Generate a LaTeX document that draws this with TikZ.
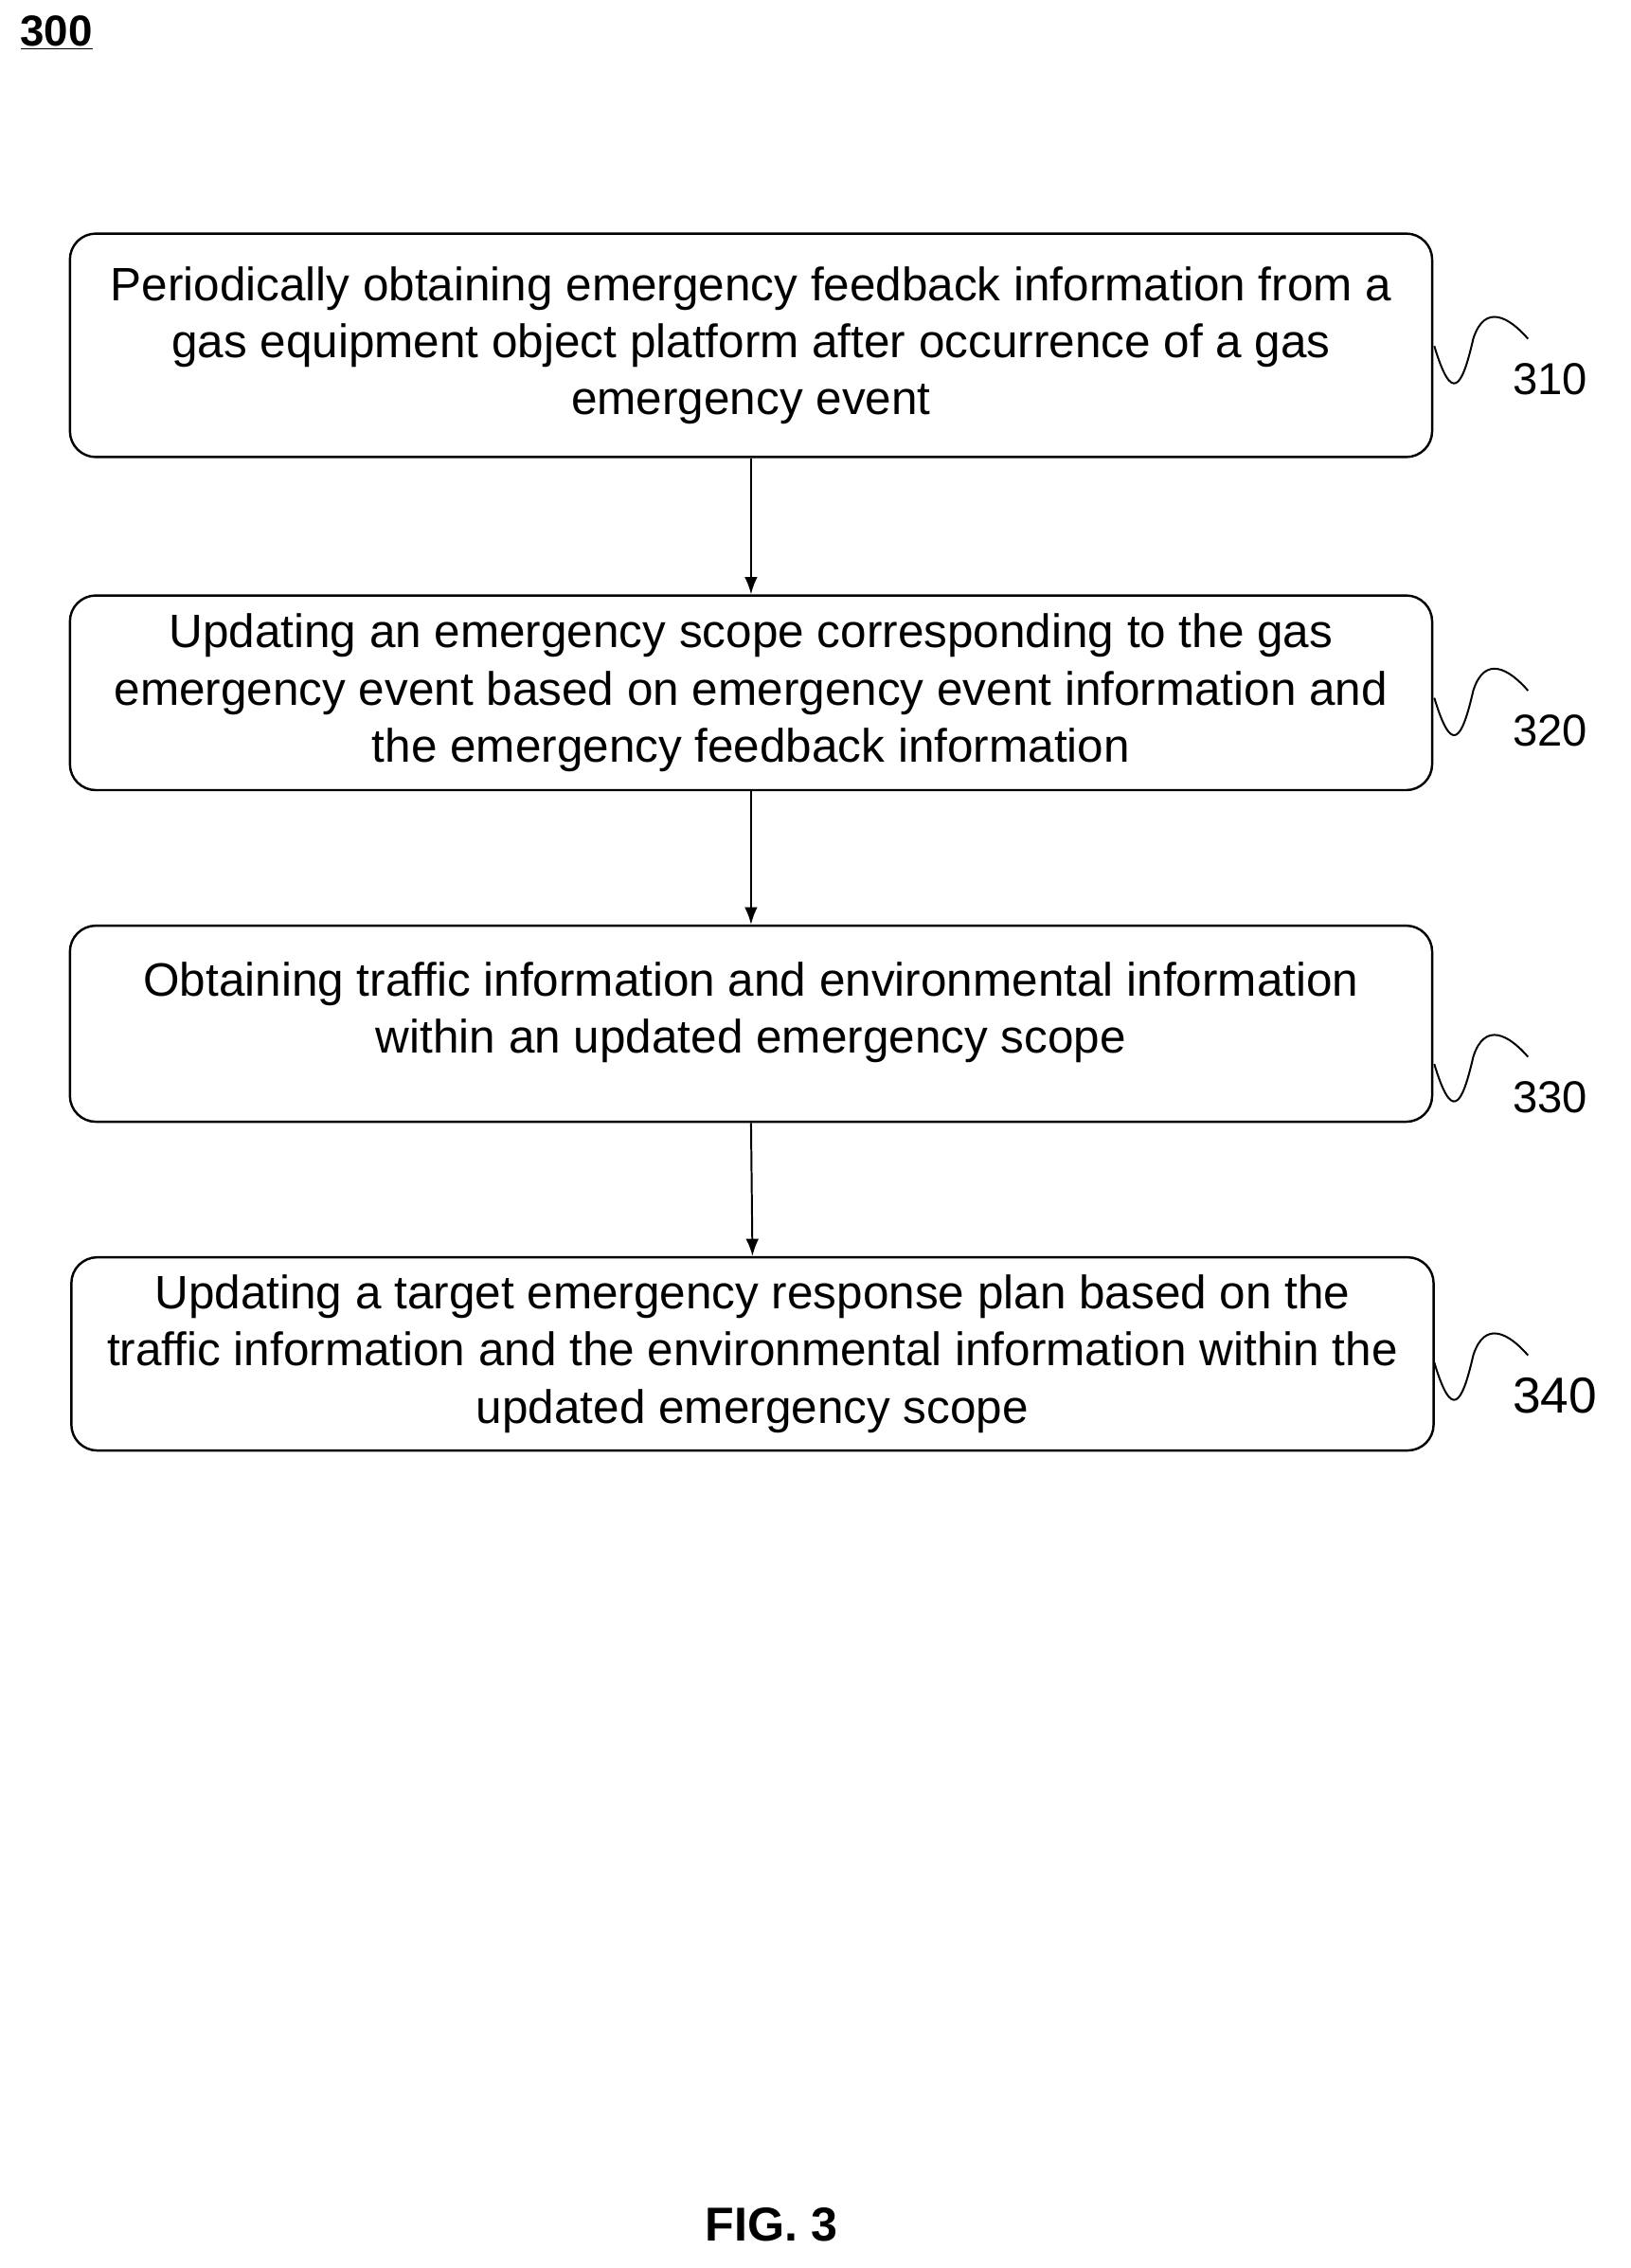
\documentclass[tikz,border=0pt]{standalone}
\usepackage{fontspec}
\setmainfont{Liberation Sans}
\usetikzlibrary{arrows.meta}
\begin{document}
\begin{tikzpicture}[x=1pt,y=-1pt,
 box/.style={draw,line width=1.6pt,rounded corners=18pt,minimum width=945pt,align=center,font=\fontsize{32.5}{39.5}\selectfont,inner sep=0pt},
 arr/.style={-{Latex[length=12pt,width=9pt]},line width=1.3pt},
 sq/.style={line width=1.3pt},
 lab/.style={anchor=west}]
\useasboundingbox (0,0) rectangle (1131,1573);
\node[box,minimum height=155pt] (b1) at (521,239.5) {Periodically obtaining emergency feedback information from a\\gas equipment object platform after occurrence of a gas\\emergency event};
\node[box,minimum height=135pt] (b2) at (521,480.5) {Updating an emergency scope corresponding to the gas\\emergency event based on emergency event information and\\the emergency feedback information};
\node[box,minimum height=136pt,text depth=22pt] (b3) at (521,710) {Obtaining traffic information and environmental information\\within an updated emergency scope};
\node[box,minimum height=134pt] (b4) at (522,939) {Updating a target emergency response plan based on the\\traffic information and the environmental information within the\\updated emergency scope};
\draw[arr] (b1.south) -- (b2.north);
\draw[arr] (b2.south) -- (b3.north);
\draw[arr] (b3.south) -- (b4.north);
\foreach \b/\y/\t/\s in {b1/240/310/31, b2/484/320/31, b3/738/330/31, b4/945/340/35}{
 \coordinate (s\t) at (995,\y);
 \draw[sq] (s\t) .. controls (1007,\y+40) and (1014,\y+30) .. (1022,\y-5)
   .. controls (1030,\y-30) and (1047,\y-20) .. (1060,\y-5);
 \node[lab,font=\fontsize{\s}{36}\selectfont] (l\t) at (1046,\y+23) {\t};
}
\node[anchor=north west,font=\bfseries\fontsize{30}{32}\selectfont,inner sep=0pt] (t300) at (14,11) {\underline{300}};
\node[font=\bfseries\fontsize{33}{34}\selectfont] (fig) at (535,1543) {FIG. 3};
\end{tikzpicture}
\end{document}
